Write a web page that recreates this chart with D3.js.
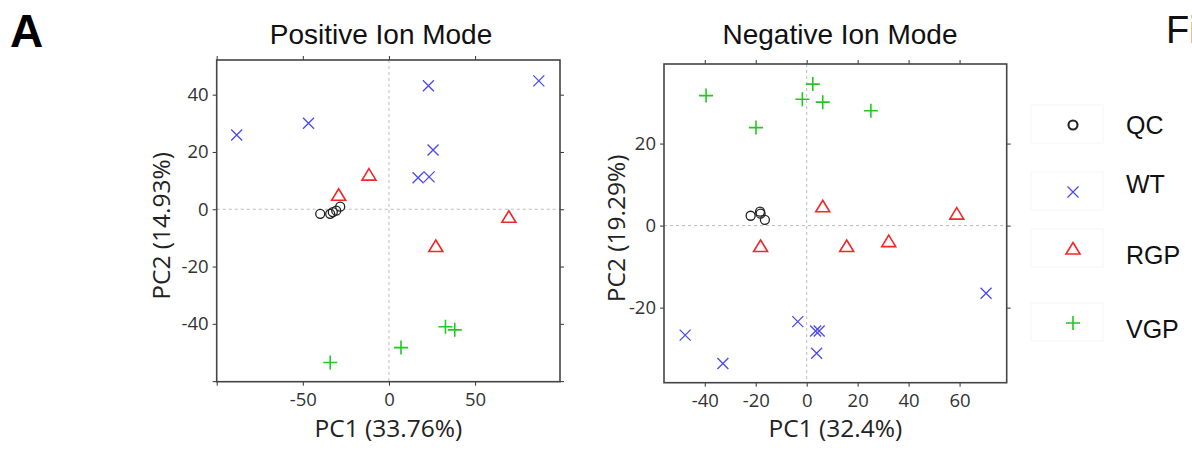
<!DOCTYPE html>
<html>
<head>
<meta charset="utf-8">
<script src="https://cdn.jsdelivr.net/npm/d3@7"></script>
<style>
  body { margin: 0; background: #fff; }
  svg { display: block; }
</style>
</head>
<body>
<svg id="fig" width="1192" height="451"></svg>
<script>
// groups
var groups = ["QC", "WT", "RGP", "VGP"];

// Positive ion mode scores (PC1, PC2)
var posQC  = [[-39.9, -1.6], [-34.1, -1.6], [-32.6, -1.0], [-30.6, -0.5], [-28.3, 0.9]];
var posWT  = [[-88.4, 25.9], [-46.7, 30.0], [22.9, 43.1], [87.0, 44.8], [25.6, 20.7], [16.9, 11.0], [23.3, 11.3]];
var posRGP = [[-11.6, 11.9], [-29.2, 4.9], [69.6, -2.8], [27.2, -13.0]];
var posVGP = [[-34.1, -53.5], [7.0, -48.3], [32.8, -41.0], [38.2, -42.1]];

// Negative ion mode scores (PC1, PC2)
var negQC  = [[-22.0, 2.4], [-18.3, 3.4], [-18.1, 2.9], [-16.4, 1.4]];
var negWT  = [[-47.7, -26.7], [-32.9, -33.6], [-3.5, -23.4], [3.5, -25.7], [4.9, -25.7], [3.9, -31.1], [70.4, -16.5]];
var negRGP = [[-18.1, -5.1], [6.3, 4.6], [15.7, -5.1], [32.2, -3.9], [58.9, 2.8]];
var negVGP = [[-39.5, 31.7], [-19.9, 23.9], [-1.7, 30.8], [2.4, 34.5], [6.3, 30.1], [25.2, 28.0]];

// axis ticks
var posXTicks = [-100, -50, 0, 50];
var posXLabels = [-50, 0, 50];
var posYTicks = [-60, -40, -20, 0, 20, 40];
var posYLabels = [-40, -20, 0, 20, 40];
var negXTicks = [-40, -20, 0, 20, 40, 60];
var negYTicks = [-20, 0, 20];

var colors = { QC: "#222", WT: "#4a4af0", RGP: "#f02828", VGP: "#22c822" };

var svg = d3.select("#fig");

// marker drawing
function marker(g, type, x, y, lw) {
  lw = lw || 1;
  if (type == "QC") {
    g.append("circle").attr("cx", x).attr("cy", y).attr("r", 4.5)
      .attr("fill", "none").attr("stroke", colors.QC).attr("stroke-width", 1.3 * lw);
  } else if (type == "WT") {
    var s = 5.5;
    g.append("path")
      .attr("d", "M" + (x - s) + "," + (y - s) + "L" + (x + s) + "," + (y + s) +
                 "M" + (x - s) + "," + (y + s) + "L" + (x + s) + "," + (y - s))
      .attr("stroke", colors.WT).attr("stroke-width", 1.3).attr("fill", "none");
  } else if (type == "RGP") {
    g.append("path")
      .attr("d", "M" + x + "," + (y - 6.5) + "L" + (x + 7) + "," + (y + 5) + "L" + (x - 7) + "," + (y + 5) + "Z")
      .attr("stroke", colors.RGP).attr("stroke-width", 1.6).attr("fill", "none");
  } else {
    var p = 7;
    g.append("path")
      .attr("d", "M" + (x - p) + "," + y + "L" + (x + p) + "," + y +
                 "M" + x + "," + (y - p) + "L" + x + "," + (y + p))
      .attr("stroke", colors.VGP).attr("stroke-width", 1.6).attr("fill", "none");
  }
}

function panel(cfg) {
  var x = d3.scaleLinear().domain(cfg.xDomain).range([cfg.left, cfg.right]);
  var y = d3.scaleLinear().domain(cfg.yDomain).range([cfg.bottom, cfg.top]);
  var g = svg.append("g");

  // zero reference lines
  g.append("line").attr("x1", x(0)).attr("x2", x(0)).attr("y1", cfg.top).attr("y2", cfg.bottom)
    .attr("stroke", "#bbb").attr("stroke-dasharray", "3,3");
  g.append("line").attr("x1", cfg.left).attr("x2", cfg.right).attr("y1", y(0)).attr("y2", y(0))
    .attr("stroke", "#bbb").attr("stroke-dasharray", "3,3");

  function fmt(labels) {
    return function(d) { return labels.indexOf(d) >= 0 ? d : ""; };
  }

  g.append("g").attr("transform", "translate(0," + cfg.bottom + ")")
    .call(d3.axisBottom(x).tickValues(cfg.xTicks).tickFormat(fmt(cfg.xLabels)).tickSize(4).tickPadding(7));
  g.append("g").attr("transform", "translate(0," + cfg.top + ")")
    .call(d3.axisTop(x).tickValues(cfg.xTicks).tickFormat("").tickSize(4));
  g.append("g").attr("transform", "translate(" + cfg.left + ",0)")
    .call(d3.axisLeft(y).tickValues(cfg.yTicks).tickFormat(fmt(cfg.yLabels)).tickSize(4).tickPadding(4));
  g.append("g").attr("transform", "translate(" + cfg.right + ",0)")
    .call(d3.axisRight(y).tickValues(cfg.yTicks).tickFormat("").tickSize(4));

  g.selectAll(".domain").remove();
  g.selectAll(".tick line").attr("stroke", "#333");
  g.selectAll(".tick text").attr("font-family", "'Open Sans', sans-serif")
    .attr("font-size", 18.5).attr("fill", "#333");

  // frame
  g.append("rect").attr("x", cfg.left).attr("y", cfg.top)
    .attr("width", cfg.right - cfg.left).attr("height", cfg.bottom - cfg.top)
    .attr("fill", "none").attr("stroke", "#444").attr("stroke-width", 1.6);

  // points
  var pts = g.append("g");
  groups.forEach(function(grp) {
    cfg.data[grp].forEach(function(d) {
      marker(pts, grp, x(d[0]), y(d[1]));
    });
  });

  // titles
  g.append("text").attr("x", cfg.titleX).attr("y", 44)
    .attr("text-anchor", "middle").attr("font-family", "'Liberation Sans', Arial, sans-serif")
    .attr("font-size", 28).attr("fill", "#111").text(cfg.title);
  g.append("text").attr("x", (cfg.left + cfg.right) / 2).attr("y", 437)
    .attr("text-anchor", "middle").attr("font-family", "'Open Sans', sans-serif")
    .attr("font-size", 24.5).attr("fill", "#222").text(cfg.xTitle);
  g.append("text")
    .attr("transform", "translate(" + cfg.yTitleX + "," + ((cfg.top + cfg.bottom) / 2 + 5) + ") rotate(-90)")
    .attr("text-anchor", "middle").attr("font-family", "'Open Sans', sans-serif")
    .attr("font-size", 24.5).attr("fill", "#222").text(cfg.yTitle);
}

panel({
  title: "Positive Ion Mode", xTitle: "PC1 (33.76%)", yTitle: "PC2 (14.93%)",
  left: 216.7, right: 560, top: 60, bottom: 381.7, yTitleX: 170, titleX: 381,
  xDomain: [-100, 99.3], yDomain: [-60.2, 52.1],
  xTicks: posXTicks, xLabels: posXLabels, yTicks: posYTicks, yLabels: posYLabels,
  data: { QC: posQC, WT: posWT, RGP: posRGP, VGP: posVGP }
});

panel({
  title: "Negative Ion Mode", xTitle: "PC1 (32.4%)", yTitle: "PC2 (19.29%)",
  left: 664, right: 1006.7, top: 64, bottom: 382.7, yTitleX: 625, titleX: 840,
  xDomain: [-56.0, 78.5], yDomain: [-38.3, 39.4],
  xTicks: negXTicks, xLabels: negXTicks, yTicks: negYTicks, yLabels: negYTicks,
  data: { QC: negQC, WT: negWT, RGP: negRGP, VGP: negVGP }
});

// legend
var legY = [125, 192, 249, 323];
var leg = svg.append("g");
groups.forEach(function(grp, i) {
  leg.append("rect").attr("x", 1031).attr("y", legY[i] - 20).attr("width", 72).attr("height", 38)
    .attr("fill", "none").attr("stroke", "#f6f6f6");
  marker(leg, grp, 1073, legY[i], 1.6);
  leg.append("text").attr("x", 1126).attr("y", legY[i] + (grp == "WT" ? 1 : (grp == "QC" ? 9 : 15)))
    .attr("font-family", "'Liberation Sans', Arial, sans-serif").attr("font-size", 25)
    .attr("fill", "#111").text(grp);
});

// panel letter and cut-off figure label
svg.append("text").attr("x", 10).attr("y", 47).attr("font-family", "'Liberation Sans', Arial, sans-serif")
  .attr("font-weight", "bold").attr("font-size", 46).attr("fill", "#000").text("A");
svg.append("text").attr("x", 1166).attr("y", 43).attr("font-family", "'Liberation Sans', Arial, sans-serif")
  .attr("font-size", 38).attr("fill", "#111").text("Fi");
</script>
</body>
</html>
